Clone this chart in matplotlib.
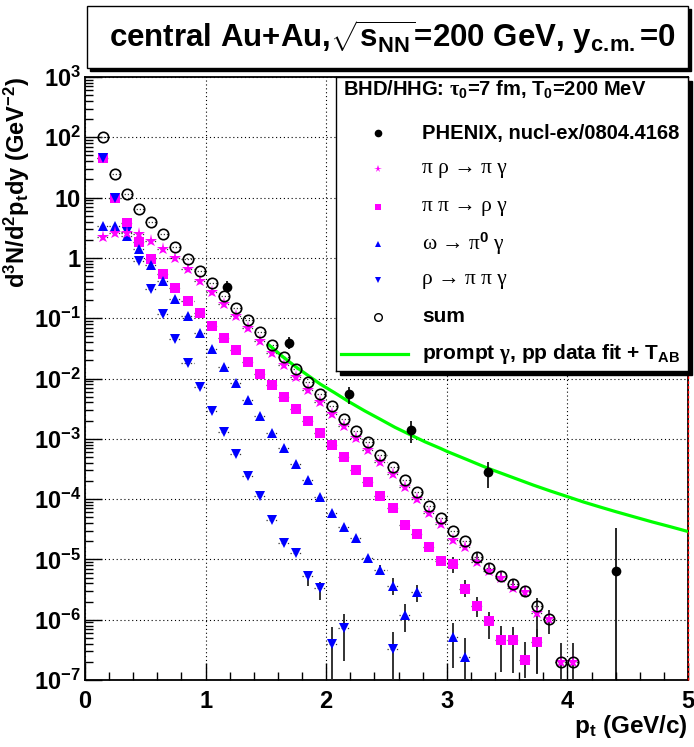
import math
import matplotlib
matplotlib.use("Agg")
import matplotlib.pyplot as plt
from matplotlib.patches import Rectangle
from matplotlib.ticker import LogLocator, MultipleLocator, FixedLocator, FuncFormatter, NullFormatter

plt.rcParams['font.family'] = ['Liberation Sans', 'DejaVu Sans']
plt.rcParams['font.weight'] = 'bold'
plt.rcParams['axes.labelweight'] = 'bold'
plt.rcParams['mathtext.fontset'] = 'custom'
plt.rcParams['mathtext.rm'] = 'Liberation Serif'
plt.rcParams['mathtext.bf'] = 'Liberation Sans:bold'
plt.rcParams['mathtext.it'] = 'Liberation Sans:italic'
plt.rcParams['mathtext.default'] = 'regular'

# pt bin centres (GeV/c)
pt_bins = [0.15, 0.25, 0.35, 0.45, 0.55, 0.65, 0.75, 0.85, 0.95, 1.05,
           1.15, 1.25, 1.35, 1.45, 1.55, 1.65, 1.75, 1.85, 1.95, 2.05,
           2.15, 2.25, 2.35, 2.45, 2.55, 2.65, 2.75, 2.85, 2.95, 3.05,
           3.15, 3.25, 3.35, 3.45, 3.55, 3.65, 3.75, 3.85, 3.95, 4.05]

# y axis decades shown with labels
y_decades = [1e-7, 1e-6, 1e-5, 1e-4, 1e-3, 1e-2, 1e-1, 1, 10, 100, 1000]

# sum of all hadronic channels
sum_y = [100, 24.9, 11.6, 6.5, 3.94, 2.46, 1.54, 0.97, 0.607, 0.379,
         0.233, 0.148, 0.093, 0.0583, 0.0363, 0.0228, 0.0142, 0.00865, 0.00547, 0.00346,
         0.00215, 0.00136, 0.000875, 0.000545, 0.000344, 0.00021, 0.00013, 7.7e-5, 4.9e-5, 2.96e-5,
         2.02e-5, 1.08e-5, 7.3e-6, 5.4e-6, 3.87e-6, 2.99e-6, 1.71e-6, 1.02e-6, 2.0e-7, 2.0e-7]
sum_bar_pt = [3.25, 3.35, 3.45, 3.55, 3.65, 3.75, 3.85, 3.95, 4.05]
sum_bar_lo = [8.1e-6, 5.9e-6, 4.27e-6, 3.11e-6, 2.41e-6, 1.3e-7, 5.8e-7, 1e-9, 1e-9]
sum_bar_hi = [1.28e-5, 8.7e-6, 6.25e-6, 4.68e-6, 3.63e-6, 2.26e-6, 1.47e-6, 4.1e-7, 4.1e-7]

# pi rho -> pi gamma
pirho_y = [2.25, 2.56, 2.6, 2.46, 1.93, 1.41, 0.98, 0.645, 0.419, 0.269,
           0.17, 0.108, 0.068, 0.0424, 0.0268, 0.0168, 0.0105, 0.00645, 0.00412, 0.00258,
           0.00163, 0.00104, 0.00065, 0.00041, 0.00026, 0.00016, 1.0e-4, 5.95e-5, 3.86e-5, 2.1e-5,
           1.62e-5, 9.2e-6, 6.4e-6, 4.98e-6, 3.4e-6, 2.9e-6, 1.28e-6, 1.02e-6, 2.0e-7, 2.0e-7]

# pi pi -> rho gamma
pipi_y = [44.9, 9.96, 3.84, 1.81, 0.95, 0.54, 0.317, 0.193, 0.12, 0.0743,
          0.047, 0.0297, 0.0188, 0.0119, 0.0077, 0.00493, 0.00308, 0.00195, 0.00126, 0.00079,
          0.0005, 0.000304, 0.000195, 0.000114, 7.2e-5, 3.7e-5, 2.67e-5, 1.58e-5, 9.5e-6, 8.4e-6,
          3.27e-6, 1.7e-6, 9.5e-7, 4.6e-7, 4.6e-7, 2.15e-7, 4.2e-7]
pipi_bar_pt = [3.05, 3.15, 3.25, 3.35, 3.45, 3.55, 3.65, 3.75]
pipi_bar_lo = [5.9e-6, 2.4e-6, 1.1e-6, 4.7e-7, 1.34e-7, 1.3e-7, 1.07e-7, 1.26e-7]
pipi_bar_hi = [1.11e-5, 4.55e-6, 2.35e-6, 1.36e-6, 7.9e-7, 7.7e-7, 4.2e-7, 7.0e-7]

# omega -> pi0 gamma
omega_pt = pt_bins[:27] + [3.05, 3.15]
omega_y = [3.42, 3.4, 2.33, 1.39, 0.762, 0.409, 0.21, 0.109, 0.0569, 0.0305,
           0.0157, 0.0083, 0.00435, 0.00236, 0.00123, 0.000703, 0.000377, 0.000207, 0.000108, 5.9e-5,
           3.5e-5, 2.24e-5, 1.04e-5, 6.7e-6, 3.66e-6, 1.2e-6, 2.85e-6, 5.1e-7, 2.4e-7]
omega_bar_pt = [2.45, 2.55, 2.65, 2.75, 3.05, 3.15]
omega_bar_lo = [5.5e-6, 2.57e-6, 6.2e-7, 2.0e-6, 1.56e-7, 1e-9]
omega_bar_hi = [8.1e-6, 4.85e-6, 1.82e-6, 3.76e-6, 8.7e-7, 5.0e-7]

# rho -> pi pi gamma
rho_pt = pt_bins[:21] + [2.55]
rho_y = [46, 9.8, 2.72, 0.9, 0.309, 0.116, 0.0447, 0.0179, 0.0073, 0.00292,
         0.00131, 0.00055, 0.000244, 0.000112, 4.45e-5, 1.89e-5, 1.26e-5, 5.3e-6, 3.4e-6, 3.9e-7,
         7.4e-7, 3.3e-7]
rho_bar_pt = [1.85, 1.95, 2.05, 2.15, 2.55]
rho_bar_lo = [3.66e-6, 2.12e-6, 1e-9, 2.1e-7, 1e-9]
rho_bar_hi = [6.45e-6, 4.27e-6, 7.7e-7, 1.25e-6, 6.3e-7]

# PHENIX direct photons
phenix_pt = [1.18, 1.69, 2.19, 2.70, 3.34, 4.40]
phenix_y = [0.329, 0.0393, 0.00553, 0.0014, 2.78e-4, 6.5e-6]
phenix_lo = [0.275, 0.0305, 0.0038, 8.6e-4, 1.51e-4, 1e-9]
phenix_hi = [0.41, 0.048, 0.0072, 0.00197, 4.07e-4, 3.28e-5]

# prompt photons, pp fit scaled by T_AB
prompt_pt = [1.52, 1.64, 1.75, 1.85, 1.95, 2.07, 2.19, 2.32, 2.45, 2.57, 2.70, 2.82, 2.95, 3.0,
             3.17, 3.34, 3.53, 3.72, 3.86, 4.0, 4.13, 4.27, 4.40, 4.55, 4.70, 4.85, 5.0]
prompt_y = [0.0367, 0.0230, 0.0155, 0.0112, 0.0081, 0.0058, 0.0041, 0.0029, 0.0021, 0.00155,
            0.00116, 8.9e-4, 6.9e-4, 6.2e-4, 4.5e-4, 3.25e-4, 2.35e-4, 1.7e-4, 1.36e-4, 1.1e-4,
            9.0e-5, 7.4e-5, 6.2e-5, 5.1e-5, 4.2e-5, 3.5e-5, 2.9e-5]

MAGENTA = '#ff00ff'
BLUE = '#0000ff'
GREEN = '#00ff00'

W, H = 694, 747


def fig_box(x0, y0, x1, y1):
    # pixel box (top-left origin) -> figure fraction rect
    return [x0 / W, 1 - y1 / H, (x1 - x0) / W, (y1 - y0) / H]


fig = plt.figure(figsize=(W / 100, H / 100), dpi=100)
ax = fig.add_axes(fig_box(85, 77, 688, 680))
ax.set_zorder(1)

ax.set_yscale('log')
ax.set_xlim(0, 5)
ax.set_ylim(1e-7, 1e3)


def model(x, y, marker, color, ms, open_marker=False):
    eb = ax.errorbar(x, y, xerr=0.05, fmt='none', ecolor='#333333', elinewidth=0.9, zorder=3)
    eb[2][0].set_linestyle((0, (1, 1.5)))
    if open_marker:
        ax.plot(x, y, ls='none', marker=marker, ms=ms, mfc='none', mec=color, mew=1.2, zorder=5)
    else:
        ax.plot(x, y, ls='none', marker=marker, ms=ms, color=color, mew=0, zorder=4)


ax.vlines(sum_bar_pt, sum_bar_lo, sum_bar_hi, color='#222222', lw=1.3, zorder=3)
ax.vlines(pipi_bar_pt, pipi_bar_lo, pipi_bar_hi, color='#222222', lw=1.3, zorder=3)
ax.vlines(omega_bar_pt, omega_bar_lo, omega_bar_hi, color='#222222', lw=1.3, zorder=3)
ax.vlines(rho_bar_pt, rho_bar_lo, rho_bar_hi, color='#222222', lw=1.3, zorder=3)

model(pt_bins[:37], pipi_y, 's', MAGENTA, 7)
model(omega_pt, omega_y, '^', BLUE, 7.5)
model(rho_pt, rho_y, 'v', BLUE, 7.5)
model(pt_bins, pirho_y, '*', MAGENTA, 9.5)
model(pt_bins, sum_y, 'o', 'k', 7.5, open_marker=True)

ax.plot(prompt_pt, prompt_y, color=GREEN, lw=2.3, zorder=4)

ph_err = [[v - lo for v, lo in zip(phenix_y, phenix_lo)],
          [hi - v for v, hi in zip(phenix_y, phenix_hi)]]
ax.errorbar(phenix_pt, phenix_y, yerr=ph_err, fmt='o', color='k', ms=7, mew=0,
            capsize=2.5, elinewidth=1.2, capthick=1.0, zorder=6)

ax.axvline(5, color='red', lw=1.0, ls=(0, (2, 1.5)), zorder=7, clip_on=False)
ax.axhline(1e-7, color='red', lw=0.8, zorder=0)

# axes style
ax.grid(True, which='major', color='k', ls=(0, (1, 2.5)), lw=0.8)
ax.set_axisbelow(True)
for s in ax.spines.values():
    s.set_linewidth(1.3)
ax.xaxis.set_major_locator(MultipleLocator(1))
ax.xaxis.set_minor_locator(MultipleLocator(0.2))
ax.xaxis.set_minor_formatter(NullFormatter())
ax.yaxis.set_major_locator(FixedLocator(y_decades))
ax.yaxis.set_minor_locator(LogLocator(base=10, subs=range(2, 10), numticks=20))
ax.yaxis.set_minor_formatter(NullFormatter())


def ylab(v, pos):
    e = int(round(math.log10(v)))
    if e == 0:
        return '1'
    if e == 1:
        return '10'
    return '10$^{%d}$' % e


ax.yaxis.set_major_formatter(FuncFormatter(ylab))
ax.xaxis.set_major_formatter(FuncFormatter(lambda v, p: '%d' % round(v)))
ax.tick_params(which='both', direction='in', top=False, right=False, width=1)
ax.tick_params(which='major', length=12, labelsize=17)
ax.tick_params(which='minor', length=6)
ax.tick_params(axis='x', pad=7)
ax.tick_params(axis='y', pad=3)

ax.set_xlabel('p$_t$ (GeV/c)', loc='right', fontsize=17.5, labelpad=0)
ax.set_ylabel('d$^{3}$N/d$^{2}$p$_{t}$dy (GeV$^{-2}$)', loc='top', fontsize=17, labelpad=1)

# title box with shadow
tb = fig_box(87, 6, 688, 68)
fig.patches.append(Rectangle((tb[0] + 3 / W, tb[1] - 3 / H), tb[2], tb[3], transform=fig.transFigure,
                             facecolor='k', edgecolor='k', zorder=2))
fig.patches.append(Rectangle((tb[0], tb[1]), tb[2], tb[3], transform=fig.transFigure,
                             facecolor='white', edgecolor='k', lw=1.0, zorder=2.5))
fig.text(393 / W, 1 - 37 / H, 'central Au+Au,$\\sqrt{s_{NN}}$=200 GeV, y$_{c.\\!m.}$=0',
         fontsize=22.5, ha='center', va='center', zorder=3)

# legend box with shadow
lb = fig_box(336, 77, 688, 371)
fig.patches.append(Rectangle((lb[0] + 4 / W, lb[1] - 4 / H), lb[2], lb[3], transform=fig.transFigure,
                             facecolor='k', edgecolor='k', zorder=2))
lax = fig.add_axes(lb)
lax.set_zorder(3)
lax.set_xlim(0, 352)
lax.set_ylim(294, 0)
lax.set_xticks([])
lax.set_yticks([])
for s in lax.spines.values():
    s.set_linewidth(1.0)

lax.text(7, 13, 'BHD/HHG: $\\mathrm{\\tau}_{0}$=7 fm, T$_{0}$=200 MeV', fontsize=14.5, va='center')
mx, tx = 42, 86
rows = [56, 92, 130, 167, 203, 240, 277]
lax.plot(mx, rows[0], 'o', color='k', ms=5.5, mew=0)
lax.plot(mx, rows[1], '*', color=MAGENTA, ms=5.5, mew=0)
lax.plot(mx, rows[2], 's', color=MAGENTA, ms=5, mew=0)
lax.plot(mx, rows[3], '^', color=BLUE, ms=5, mew=0)
lax.plot(mx, rows[4], 'v', color=BLUE, ms=5, mew=0)
lax.plot(mx, rows[5], 'o', mfc='none', mec='k', ms=5.5, mew=1)
lax.plot([5, 72], [rows[6], rows[6]], color=GREEN, lw=2.3)

lax.text(tx, rows[0], 'PHENIX, nucl-ex/0804.4168', fontsize=14.5, va='center')
lax.text(tx, rows[1], 'π ρ → π γ', fontsize=15.5, va='center', family='Liberation Serif', weight='normal')
lax.text(tx, rows[2], 'π π → ρ γ', fontsize=15.5, va='center', family='Liberation Serif', weight='normal')
lax.text(tx, rows[3], 'ω → π$^{\\mathbf{0}}$ γ', fontsize=15.5, va='center', family='Liberation Serif',
         weight='normal')
lax.text(tx, rows[4], 'ρ → π π γ', fontsize=15.5, va='center', family='Liberation Serif', weight='normal')
lax.text(tx, rows[5], 'sum', fontsize=15, va='center')
lax.text(tx, rows[6], 'prompt $\\mathrm{\\gamma}$, pp data fit + T$_{AB}$', fontsize=15, va='center')

fig.savefig('out.png', dpi=100)
